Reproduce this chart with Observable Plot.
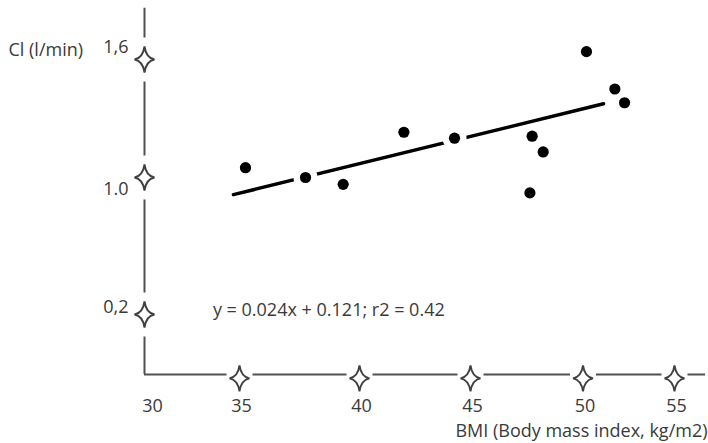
<!DOCTYPE html>
<html><head><meta charset="utf-8">
<script src="https://cdn.jsdelivr.net/npm/d3@7"></script>
<script src="https://cdn.jsdelivr.net/npm/@observablehq/plot@0.6"></script>
<style>html,body{margin:0;padding:0;background:#fff}</style>
</head><body><div id="chart"></div>
<script>
// data
const bmi = [35.25, 37.75, 39.32, 42.0, 44.28, 47.74, 48.23, 47.64, 50.19, 51.74, 52.27];
const ci  = [1.05, 1.00, 0.96, 1.23, 1.20, 1.21, 1.13, 0.91, 1.64, 1.45, 1.38];
const fitBmi = [34.68, 51.12];
const fitCi  = [0.90, 1.375];
const xTicks = [30, 35, 40, 45, 50, 55];
const xTickLabels = ["30", "35", "40", "45", "50", "55"];
const yTicks = [1.6, 1.0, 0.2];
const yTickLabels = ["1,6", "1.0", "0,2"];
const xAxisEnd = 56.7;
const yAxisTop = 1.86;
const yAxisBottom = -0.15;
const equation = "y = 0.024x + 0.121; r2 = 0.42";
const yTitle = "Cl (l/min)";
const xTitle = "BMI (Body mass index, kg/m2)";

const points = bmi.map((b, i) => ({bmi: b, ci: ci[i]}));
const fit = fitBmi.map((b, i) => ({bmi: b, ci: fitCi[i]}));

const sparkle = {draw(ctx, size) {
  const r = Math.sqrt(size / Math.PI), w = r, h = r * 1.3, k = r * 0.16;
  ctx.moveTo(0, -h);
  ctx.quadraticCurveTo(k, -k, w, 0);
  ctx.quadraticCurveTo(k, k, 0, h);
  ctx.quadraticCurveTo(-k, k, -w, 0);
  ctx.quadraticCurveTo(-k, -k, 0, -h);
  ctx.closePath();
}};
const vGap = {draw(ctx) { ctx.rect(-4, -22, 8, 44); }};
const hGap = {draw(ctx) { ctx.rect(-13, -4, 26, 8); }};

const ink = "#3a3a3a";
const font = "'Open Sans', sans-serif";
const fs = 18;
const yLabelDy = [-12, 12, -7];

const chart = Plot.plot({
  width: 708, height: 443,
  margin: 0,
  x: {type: "linear", domain: xTicks, range: [144, 239, 359, 470, 582.5, 674], axis: null},
  y: {type: "linear", domain: [0.2, 1.0, 1.6], range: [314, 177, 59], axis: null},
  style: {background: "white", fontFamily: font},
  marks: [
    Plot.ruleX([30], {y1: yAxisBottom, y2: yAxisTop, stroke: "#505050", strokeWidth: 2}),
    Plot.ruleY([yAxisBottom], {x1: 30, x2: xAxisEnd, stroke: "#505050", strokeWidth: 2}),
    Plot.dot(yTicks, {x: 30, y: d => d, symbol: vGap, r: 10, fill: "white", stroke: "none"}),
    Plot.dot(xTicks.slice(1), {x: d => d, y: yAxisBottom, symbol: hGap, r: 10, fill: "white", stroke: "none"}),
    Plot.dot(yTicks, {x: 30, y: d => d, symbol: sparkle, r: 10, fill: "white", stroke: "#404040", strokeWidth: 1.9}),
    Plot.dot(xTicks.slice(1), {x: d => d, y: yAxisBottom, dy: 4, symbol: sparkle, r: 10, fill: "white", stroke: "#404040", strokeWidth: 1.9}),
    ...yTicks.map((t, i) => Plot.text([yTickLabels[i]], {x: 30, y: t, dx: -16, dy: yLabelDy[i], text: d => d, textAnchor: "end", lineAnchor: "middle", fontSize: fs, fill: ink})),
    Plot.text(xTicks.slice(1), {x: d => d, y: yAxisBottom, dy: 32, dx: 2, text: (d, i) => xTickLabels[i + 1], lineAnchor: "middle", fontSize: fs, fill: ink}),
    Plot.text([xTickLabels[0]], {x: xTicks[0], y: yAxisBottom, dy: 32, dx: 8, text: d => d, lineAnchor: "middle", fontSize: fs, fill: ink}),
    Plot.text([yTitle], {frameAnchor: "top-left", dx: 8, dy: 50, text: d => d, textAnchor: "start", lineAnchor: "middle", fontSize: fs, fill: ink}),
    Plot.text([xTitle], {frameAnchor: "bottom-right", dx: -1, dy: -12, text: d => d, textAnchor: "end", lineAnchor: "middle", fontSize: fs, fill: ink}),
    Plot.text([equation], {x: 33.6, y: 0.222, text: d => d, textAnchor: "start", lineAnchor: "middle", fontSize: fs, fill: ink}),
    Plot.line(fit, {x: "bmi", y: "ci", stroke: "black", strokeWidth: 3.5}),
    Plot.dot(points, {x: "bmi", y: "ci", r: 12, fill: "white", stroke: "none"}),
    Plot.dot(points, {x: "bmi", y: "ci", r: 5.6, fill: "black", stroke: "none"})
  ]
});
document.getElementById("chart").append(chart);
</script>
</body></html>
